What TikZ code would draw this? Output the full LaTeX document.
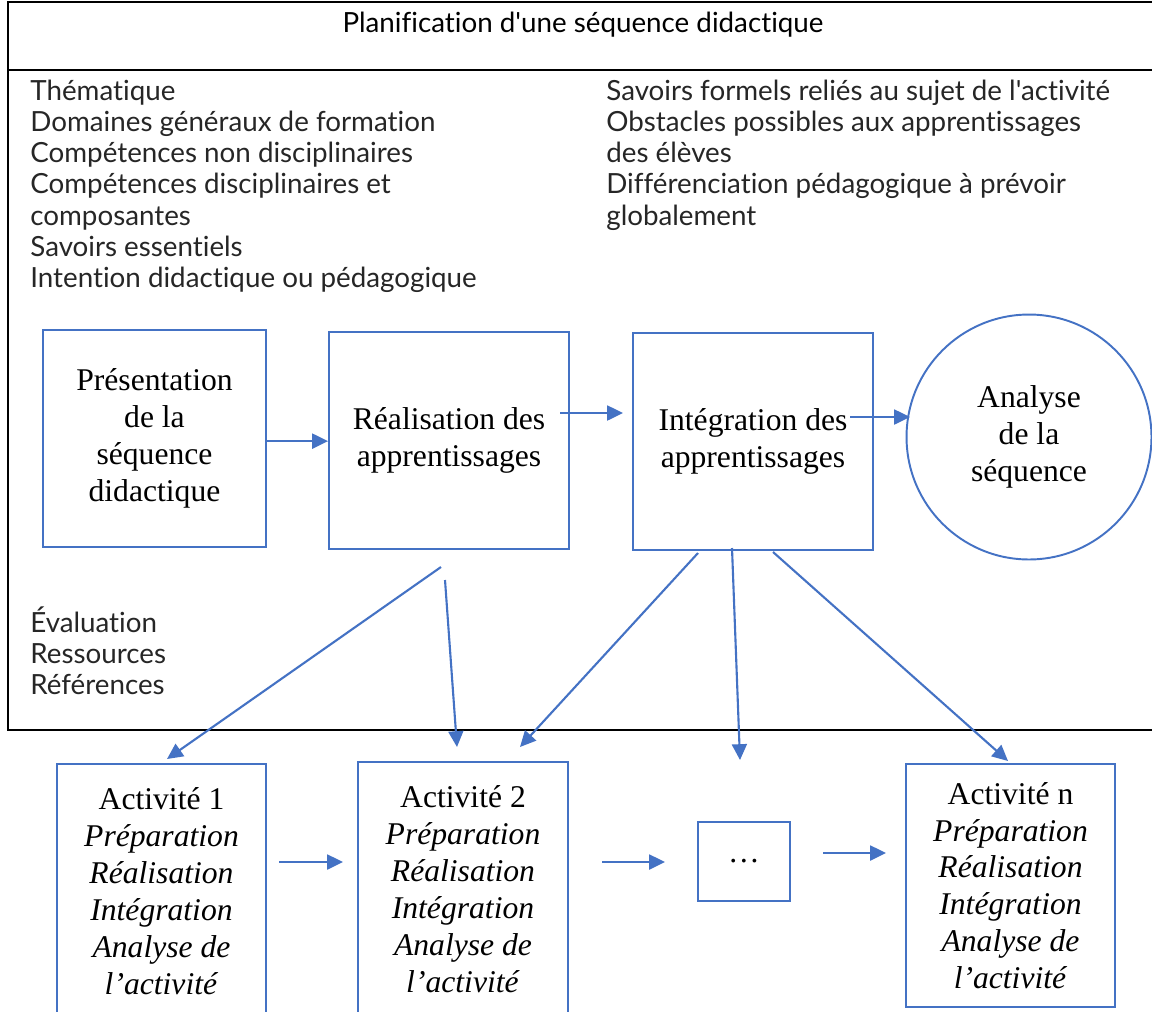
\documentclass[tikz,border=0pt]{standalone}
\usepackage{fontspec}
\setmainfont{Liberation Serif}
\newfontfamily\listefont{Lato}[Ligatures=NoCommon]
\usetikzlibrary{arrows.meta}
\definecolor{bleu}{HTML}{4472C4}

\begin{document}
\begin{tikzpicture}[x=0.02cm, y=-0.02cm,
  boite/.style={draw=bleu, line width=1.1pt, align=center, inner sep=0pt,
    font=\fontsize{18}{21}\selectfont},
  fleche/.style={draw=bleu, line width=1.2pt, -{Triangle[length=9pt, width=8.5pt]}},
  liste/.style={anchor=base west, inner sep=0pt,
    font=\listefont\fontsize{15.8}{18}\selectfont, text=black!85}]

  % Size of the picture
  \useasboundingbox (0,0) rectangle (1152,1011);
  \clip (0,0) rectangle (1152,1011);

  % Frame of the planning
  \draw[line width=1.4pt] (1160,2) -- (8,2) -- (8,730) -- (1160,730);
  \draw[line width=1.4pt] (8,70) -- (1160,70);
  \node[inner sep=0pt, font=\listefont\fontsize{15.8}{18}\selectfont] (titre) at (583,25)
    {Planification d'une séquence didactique};

  % Lists of elements
  \foreach \t [count=\i] in {Thématique, Domaines généraux de formation,
      Compétences non disciplinaires, Compétences disciplinaires et,
      composantes, Savoirs essentiels, Intention didactique ou pédagogique}
    \node[liste] (gauche\i) at (30,{68.7+31.3*\i}) {\t};
  \foreach \t [count=\i] in {Savoirs formels reliés au sujet de l'activité,
      Obstacles possibles aux apprentissages, des élèves,
      Différenciation pédagogique à prévoir, globalement}
    \node[liste] (droite\i) at (606,{68.7+31.3*\i}) {\t};
  \foreach \t [count=\i] in {Évaluation, Ressources, Références}
    \node[liste] (bas\i) at (30,{600.7+31.3*\i}) {\t};

  % Phases of the sequence
  \node[boite, minimum width=44.6mm, minimum height=43.4mm] (pres) at (154.5,438.5)
    {Présentation\\de la\\séquence\\didactique};
  \node[boite, minimum width=48mm, minimum height=43.4mm] (real) at (449,440.5)
    {Réalisation des\\apprentissages};
  \node[boite, minimum width=48mm, minimum height=43.4mm] (integ) at (753,441.5)
    {Intégration des\\apprentissages};
  \node[boite, circle, minimum size=49mm] (analyse) at (1029,437)
    {Analyse\\de la\\séquence};

  % Activities
  \node[boite, minimum width=41.8mm, minimum height=50.8mm] (act1) at (161.5,891)
    {Activité 1\\\textit{Préparation}\\\textit{Réalisation}\\\textit{Intégration}\\\textit{Analyse de}\\\textit{l’activité}};
  \node[boite, minimum width=42mm, minimum height=51mm] (act2) at (463,889)
    {Activité 2\\\textit{Préparation}\\\textit{Réalisation}\\\textit{Intégration}\\\textit{Analyse de}\\\textit{l’activité}};
  \node[boite, minimum width=18.4mm, minimum height=15.8mm] (points) at (744,861.5) {\dots};
  \node[boite, minimum width=41.8mm, minimum height=48.6mm] (actn) at (1010.5,885.5)
    {Activité n\\\textit{Préparation}\\\textit{Réalisation}\\\textit{Intégration}\\\textit{Analyse de}\\\textit{l’activité}};

  % Free ends of the arrows
  \coordinate (r1) at (560,413);
  \coordinate (r2) at (623,413);
  \coordinate (i1) at (850,417);
  \coordinate (i2) at (910,417);
  \coordinate (d1) at (441,567);
  \coordinate (d2) at (445,580);
  \coordinate (d3) at (698,553);
  \coordinate (d4) at (732,548);
  \coordinate (d5) at (773,552);
  \coordinate (f1) at (167,759);
  \coordinate (f2) at (457,747);
  \coordinate (f3) at (520,747);
  \coordinate (f4) at (740,760);
  \coordinate (f5) at (1008,761);
  \coordinate (h1) at (279,862);
  \coordinate (h2) at (343,862);
  \coordinate (h3) at (602,862);
  \coordinate (h4) at (665,862);
  \coordinate (h5) at (823,853);
  \coordinate (h6) at (886,853);

  % Arrows
  \draw[fleche] ([yshift=-1.5]pres.east) -- ([yshift=-1.5]pres.east -| real.west);
  \draw[fleche] (r1) -- (r2);
  \draw[fleche] (i1) -- (i2);
  \draw[fleche] (d1) -- (f1);
  \draw[fleche] (d2) -- (f2);
  \draw[fleche] (d3) -- (f3);
  \draw[fleche] (d4) -- (f4);
  \draw[fleche] (d5) -- (f5);
  \draw[fleche] (h1) -- (h2);
  \draw[fleche] (h3) -- (h4);
  \draw[fleche] (h5) -- (h6);

\end{tikzpicture}
\end{document}
